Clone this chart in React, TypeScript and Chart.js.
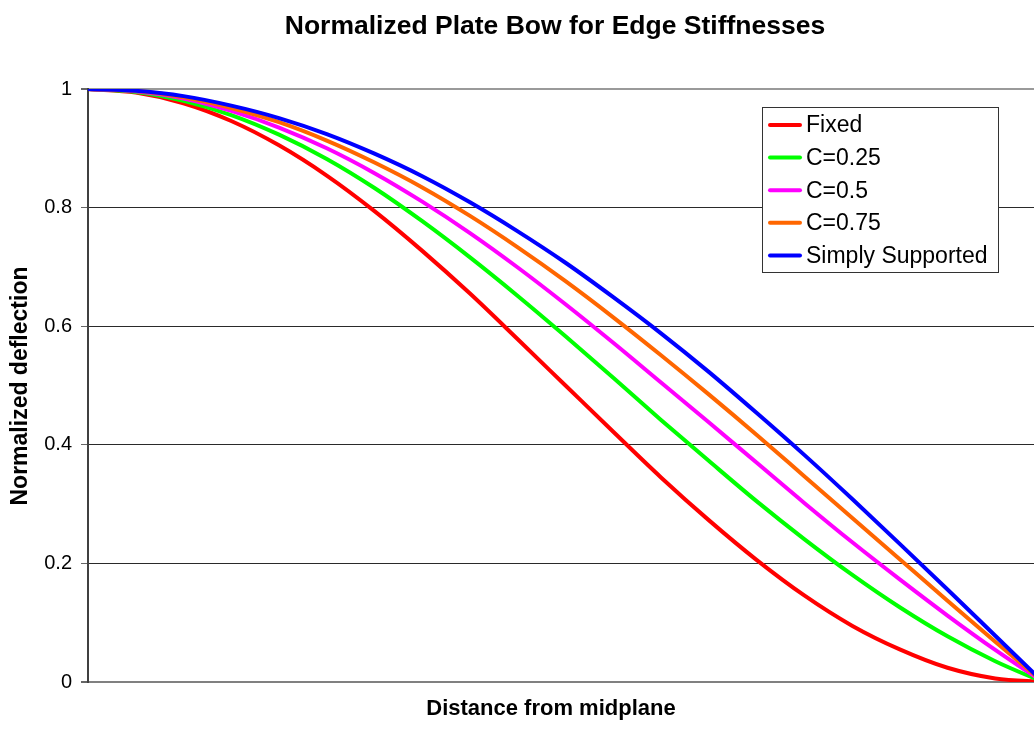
import React, { useEffect, useRef } from "react";
import { Chart, registerables } from "chart.js";

Chart.register(...registerables);

// Normalized position across the half-span (0 = midplane, 1 = edge)
const X_POSITIONS = [
  0, 0.05, 0.1, 0.15, 0.2, 0.25, 0.3, 0.35, 0.4, 0.45, 0.5,
  0.55, 0.6, 0.65, 0.7, 0.75, 0.8, 0.85, 0.9, 0.95, 1,
];

// Normalized deflection for each edge stiffness
const FIXED = [
  1, 0.994, 0.976, 0.946, 0.905, 0.854, 0.794, 0.727, 0.655, 0.578, 0.5,
  0.422, 0.345, 0.273, 0.206, 0.146, 0.095, 0.055, 0.024, 0.006, 0,
];
const C_025 = [
  1, 0.995, 0.980, 0.956, 0.923, 0.882, 0.833, 0.777, 0.716, 0.651, 0.583,
  0.513, 0.442, 0.373, 0.305, 0.241, 0.181, 0.126, 0.077, 0.035, 0,
];
const C_050 = [
  1, 0.996, 0.984, 0.963, 0.935, 0.900, 0.858, 0.810, 0.757, 0.699, 0.637,
  0.572, 0.505, 0.438, 0.370, 0.302, 0.236, 0.173, 0.112, 0.054, 0,
];
const C_075 = [
  1, 0.997, 0.986, 0.968, 0.944, 0.913, 0.876, 0.834, 0.786, 0.733, 0.676,
  0.615, 0.551, 0.485, 0.417, 0.347, 0.277, 0.207, 0.137, 0.068, 0,
];
const SIMPLY_SUPPORTED = [
  1, 0.997, 0.988, 0.972, 0.951, 0.924, 0.891, 0.853, 0.809, 0.760, 0.707,
  0.649, 0.588, 0.523, 0.454, 0.383, 0.309, 0.233, 0.156, 0.078, 0,
];

const SERIES_LABELS = ["Fixed", "C=0.25", "C=0.5", "C=0.75", "Simply Supported"];
const SERIES_VALUES = [FIXED, C_025, C_050, C_075, SIMPLY_SUPPORTED];
const SERIES_COLORS = ["#ff0000", "#00ff00", "#ff00ff", "#ff6600", "#0000ff"];

const Y_TICKS = [0, 0.2, 0.4, 0.6, 0.8, 1];

const CHART_TITLE = "Normalized Plate Bow for Edge Stiffnesses";
const X_TITLE = "Distance from midplane";
const Y_TITLE = "Normalized deflection";

const FONT = '"Liberation Sans", Arial, Helvetica, sans-serif';

// Titles and the boxed legend drawn on top of the plot
const decorPlugin = {
  id: "plateDecor",
  afterDraw(chart: any) {
    const ctx: CanvasRenderingContext2D = chart.ctx;
    ctx.save();
    ctx.fillStyle = "#000";
    ctx.textAlign = "center";
    ctx.textBaseline = "middle";

    ctx.font = `bold 26.5px ${FONT}`;
    ctx.fillText(CHART_TITLE, 555, 27);

    ctx.font = `bold 22px ${FONT}`;
    ctx.fillText(X_TITLE, 551, 709);

    ctx.save();
    ctx.font = `bold 23px ${FONT}`;
    ctx.translate(21, 386);
    ctx.rotate(-Math.PI / 2);
    ctx.fillText(Y_TITLE, 0, 0);
    ctx.restore();

    // Legend box
    const boxX = 762.5;
    const boxY = 107.5;
    const boxW = 236;
    const boxH = 165;
    ctx.fillStyle = "#fff";
    ctx.fillRect(boxX, boxY, boxW, boxH);
    ctx.strokeStyle = "#333";
    ctx.lineWidth = 1;
    ctx.strokeRect(boxX, boxY, boxW, boxH);

    ctx.textAlign = "left";
    ctx.font = `23px ${FONT}`;
    chart.data.datasets.forEach((ds: any, i: number) => {
      const y = 125 + i * 32.6;
      ctx.strokeStyle = ds.borderColor;
      ctx.lineWidth = 4;
      ctx.lineCap = "round";
      ctx.beginPath();
      ctx.moveTo(770, y);
      ctx.lineTo(800, y);
      ctx.stroke();
      ctx.fillStyle = "#000";
      ctx.fillText(ds.label, 806, y + 1);
    });
    ctx.restore();
  },
};

export default function App() {
  const canvasRef = useRef<HTMLCanvasElement | null>(null);

  useEffect(() => {
    if (!canvasRef.current) return;
    const chart = new Chart(canvasRef.current, {
      type: "line",
      data: {
        labels: X_POSITIONS,
        datasets: SERIES_LABELS.map((label, i) => ({
          label,
          data: SERIES_VALUES[i],
          borderColor: SERIES_COLORS[i],
          backgroundColor: SERIES_COLORS[i],
          borderWidth: 4,
          pointRadius: 0,
          fill: false,
          cubicInterpolationMode: "monotone" as const,
          order: SERIES_LABELS.length - i,
        })),
      },
      options: {
        responsive: false,
        devicePixelRatio: 1,
        animation: false,
        layout: { padding: { top: 89, bottom: 51, left: 0, right: 17 } },
        plugins: {
          legend: { display: false },
          title: { display: false },
          tooltip: { enabled: false },
        },
        scales: {
          x: { type: "linear", min: 0, max: 1, display: false },
          y: {
            type: "linear",
            min: 0,
            max: 1,
            afterFit: (scale: any) => {
              scale.width = 88;
            },
            afterBuildTicks: (scale: any) => {
              scale.ticks = Y_TICKS.map((value) => ({ value }));
            },
            ticks: {
              color: "#000",
              padding: 9,
              font: { family: FONT, size: 20 },
              callback: (v: any) => String(v),
            },
            grid: {
              tickLength: 7,
              tickColor: "#666",
              color: (c: any) =>
                c.tick && c.tick.value === 0
                  ? "#808080"
                  : c.tick && c.tick.value === 1
                  ? "#9a9a9a"
                  : "#2a2a2a",
              lineWidth: (c: any) =>
                c.tick && (c.tick.value === 0 || c.tick.value === 1) ? 2 : 1,
            },
            border: { display: true, color: "#404040", width: 2 },
          },
        },
      },
      plugins: [decorPlugin],
    });
    return () => chart.destroy();
  }, []);

  return (
    <div
      style={{
        position: "absolute",
        left: 0,
        top: 0,
        width: 1034,
        height: 733,
        overflow: "hidden",
        background: "#fff",
      }}
    >
      <canvas ref={canvasRef} width={1060} height={733} />
    </div>
  );
}
